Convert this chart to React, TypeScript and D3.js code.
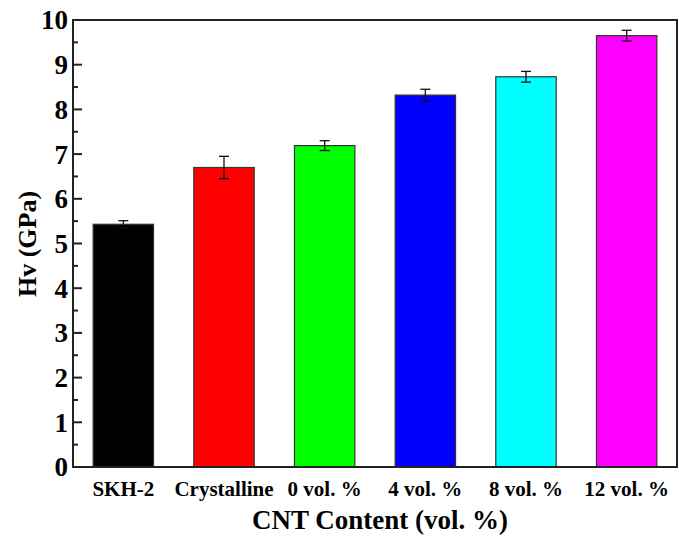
import React, { useRef, useEffect } from 'react';
import * as d3 from 'd3';

const categories = ['SKH-2', 'Crystalline', '0 vol. %', '4 vol. %', '8 vol. %', '12 vol. %'];
const values = [5.43, 6.7, 7.19, 8.32, 8.73, 9.65];
const errors = [0.08, 0.25, 0.11, 0.13, 0.12, 0.12];
const colors = ['#000000', '#ff0000', '#00ff00', '#0000ff', '#00ffff', '#ff00ff'];
const yTicks = [0, 1, 2, 3, 4, 5, 6, 7, 8, 9, 10];

const W = 679;
const H = 536;
const margin = { top: 20, right: 2, bottom: 69, left: 73 };

const App = () => {
  const svgRef = useRef(null);

  useEffect(() => {
    const svg = d3.select(svgRef.current);
    svg.selectAll('*').remove();

    const x0 = margin.left;
    const x1 = W - margin.right;
    const y0 = H - margin.bottom;
    const y1 = margin.top;

    const x = d3.scaleBand().domain(categories).range([x0, x1]).paddingInner(0.4).paddingOuter(0.2);
    const y = d3.scaleLinear().domain([0, 10]).range([y0, y1]);

    // bars
    svg.selectAll('rect.bar')
      .data(categories)
      .enter().append('rect')
      .attr('class', 'bar')
      .attr('x', d => x(d))
      .attr('y', (d, i) => y(values[i]))
      .attr('width', x.bandwidth())
      .attr('height', (d, i) => y0 - y(values[i]))
      .attr('fill', (d, i) => colors[i])
      .attr('stroke', '#333')
      .attr('stroke-width', 1.2);

    // error bars
    const eb = svg.selectAll('g.err')
      .data(categories)
      .enter().append('g')
      .attr('stroke', '#111')
      .attr('stroke-width', 1.3);
    const cx = d => x(d) + x.bandwidth() / 2;
    eb.append('line')
      .attr('x1', cx).attr('x2', cx)
      .attr('y1', (d, i) => y(values[i] + errors[i]))
      .attr('y2', (d, i) => y(values[i] - errors[i]));
    [1, -1].forEach(s => {
      eb.append('line')
        .attr('x1', d => cx(d) - 5).attr('x2', d => cx(d) + 5)
        .attr('y1', (d, i) => y(values[i] + s * errors[i]))
        .attr('y2', (d, i) => y(values[i] + s * errors[i]));
    });

    // frame
    svg.append('rect')
      .attr('x', x0).attr('y', y1)
      .attr('width', x1 - x0).attr('height', y0 - y1)
      .attr('fill', 'none')
      .attr('stroke', '#222')
      .attr('stroke-width', 2);

    // y ticks (inward), minor at halves
    const minor = d3.range(0.5, 10, 1);
    svg.selectAll('line.major')
      .data(yTicks.slice(1, -1))
      .enter().append('line')
      .attr('x1', x0).attr('x2', x0 + 9)
      .attr('y1', d => y(d)).attr('y2', d => y(d))
      .attr('stroke', '#222').attr('stroke-width', 2);
    svg.selectAll('line.minor')
      .data(minor)
      .enter().append('line')
      .attr('x1', x0).attr('x2', x0 + 5)
      .attr('y1', d => y(d)).attr('y2', d => y(d))
      .attr('stroke', '#222').attr('stroke-width', 2);

    const font = '"Liberation Serif", "Times New Roman", serif';

    svg.selectAll('text.ytick')
      .data(yTicks)
      .enter().append('text')
      .attr('x', x0 - 5)
      .attr('y', d => y(d))
      .attr('dy', '0.35em')
      .attr('text-anchor', 'end')
      .attr('font-family', font)
      .attr('font-weight', 'bold')
      .attr('font-size', 27)
      .text(d => d);

    svg.selectAll('text.xtick')
      .data(categories)
      .enter().append('text')
      .attr('x', d => cx(d))
      .attr('y', 496)
      .attr('text-anchor', 'middle')
      .attr('font-family', font)
      .attr('font-weight', 'bold')
      .attr('font-size', 21)
      .text(d => d);

    svg.append('text')
      .attr('x', 380)
      .attr('y', 529)
      .attr('text-anchor', 'middle')
      .attr('font-family', font)
      .attr('font-weight', 'bold')
      .attr('font-size', 27)
      .text('CNT Content (vol. %)');

    svg.append('text')
      .attr('transform', `translate(36,244) rotate(-90)`)
      .attr('text-anchor', 'middle')
      .attr('font-family', font)
      .attr('font-weight', 'bold')
      .attr('font-size', 26)
      .text('Hv (GPa)');
  }, []);

  return <svg ref={svgRef} width={W} height={H} style={{ display: 'block', position: 'absolute', left: 0, top: 0 }}></svg>;
};

export default App;
